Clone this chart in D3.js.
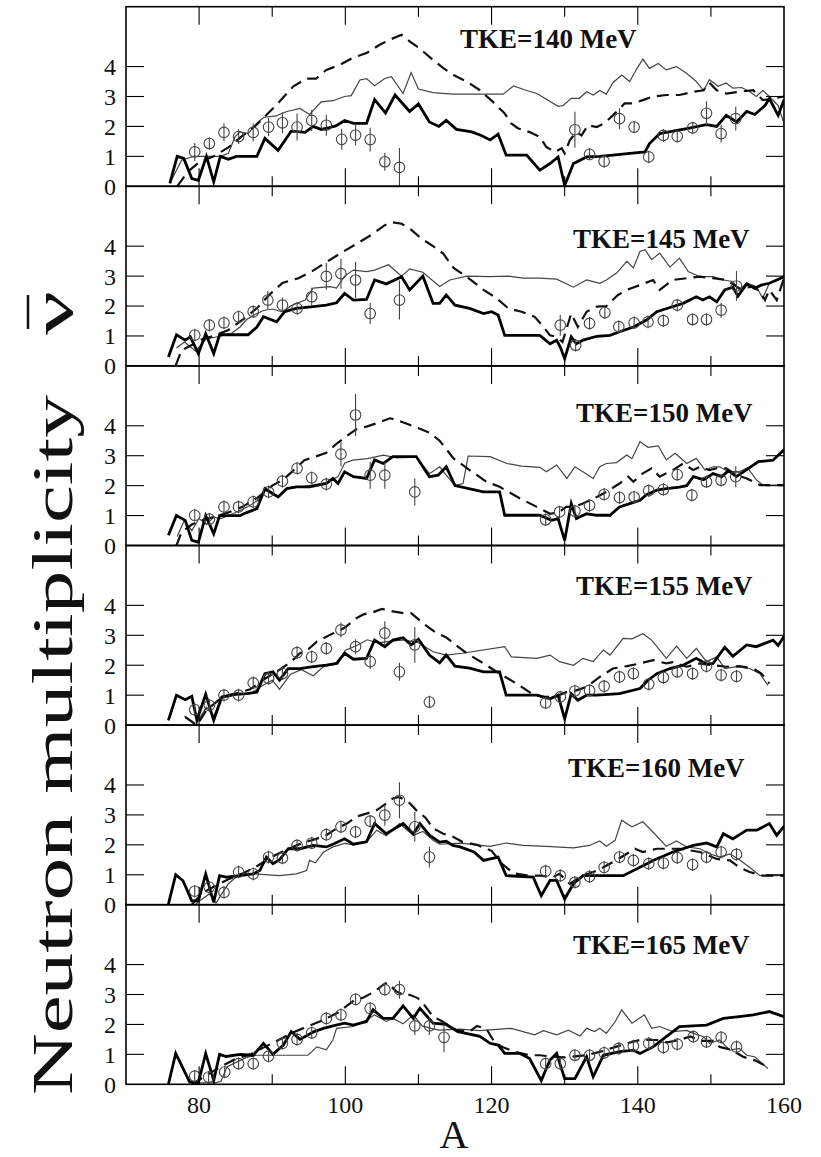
<!DOCTYPE html>
<html><head><meta charset="utf-8">
<script src="https://cdn.jsdelivr.net/npm/d3@7"></script>
<style>body{margin:0;background:#fff}svg{display:block}</style>
</head><body>
<svg id="c" width="821" height="1157"></svg>
<script>
// ---------------- DATA ----------------
const xTicksMajor = [80, 100, 120, 140, 160];
const xTicksMinor = [90, 110, 130, 150];
const yTicks = [0, 1, 2, 3, 4];
const panelLabels = ["TKE=140 MeV", "TKE=145 MeV", "TKE=150 MeV", "TKE=155 MeV", "TKE=160 MeV", "TKE=165 MeV"];

// thick solid curves [A, nu]
const thick140 = [[76,0.1],[77,1.0],[77.9,0.93],[79,0.26],[79.9,0.2],[81,1.0],[82,0.15],[82.9,1.0],[84,0.9],[85.1,1.0],[87.9,1.0],[89,1.6],[90.8,1.2],[92.6,1.84],[94.5,1.8],[95.6,2.0],[96.7,1.9],[97.8,1.96],[98.7,2.02],[99.9,2.2],[101.1,2.1],[102.9,2.1],[104,2.9],[105.5,2.45],[106.8,3.05],[108.8,2.5],[110,2.75],[111.5,2.15],[112.8,2.0],[113.8,2.2],[115.2,1.9],[117.3,1.82],[118.6,1.7],[119.8,1.55],[120.9,1.74],[122,1.04],[124.8,1.04],[126.6,0.54],[128,0.76],[129.1,0.98],[130,0.03],[131.2,0.76],[133,0.98],[134.8,1.0],[136.6,1.04],[138.9,1.1],[141,1.15],[141.6,1.43],[143,1.76],[144.8,1.84],[146.7,1.93],[149.4,2.06],[150.8,2.0],[152.1,2.37],[153.5,2.15],[154.9,2.5],[156,2.4],[157.4,2.7],[158,2.93],[159.2,2.37],[160,2.88]];
const thick145 = [[75.8,0.3],[76.9,1.04],[78.1,0.86],[78.8,0.97],[79.9,0.41],[80.9,1.08],[82,0.41],[82.8,1.04],[86.7,1.04],[87.9,1.3],[88.8,1.64],[90.6,1.47],[91.7,1.81],[93.3,1.92],[95.6,1.98],[97.4,2.03],[98.8,2.11],[99.9,2.42],[101.1,2.2],[102.9,2.22],[104,2.87],[105.6,2.74],[107.7,2.98],[108.8,2.54],[110.6,3.0],[112,2.09],[112.9,2.09],[113.8,2.37],[115,2.03],[117,1.92],[118.9,1.75],[120,1.81],[120.9,1.7],[121.8,1.02],[126.6,1.02],[128,0.74],[128.9,0.86],[129.4,0.63],[130,0.24],[130.9,0.97],[131.6,0.74],[132.5,0.86],[134.4,0.99],[136.2,1.02],[137.5,1.14],[139.4,1.3],[141.2,1.53],[142.6,1.81],[144.4,1.95],[146.2,2.09],[148,2.31],[148.9,2.2],[149.8,2.31],[150.8,2.14],[151.9,2.54],[153,2.63],[153.7,2.33],[154.9,2.74],[156,2.59],[156.9,2.7],[158,2.76],[159,2.87],[160,2.98]];
const thick150 = [[75.8,0.34],[76.9,1.0],[78.1,0.84],[79,0.17],[79.9,0.11],[80.9,1.0],[82,0.39],[82.8,1.0],[85.6,1.0],[86.5,1.1],[87.9,1.23],[89,1.9],[90.8,1.62],[92,1.9],[93.3,1.96],[95.1,1.96],[97.4,2.07],[98.3,2.24],[99,2.07],[99.9,2.46],[101.1,2.3],[102.9,2.24],[104,2.86],[105.2,2.74],[106.5,2.97],[109.7,2.97],[111.5,2.3],[112.7,2.35],[113.8,2.63],[115,2.0],[118.9,1.79],[121.1,1.79],[121.8,1.01],[126.6,1.01],[128.2,0.84],[129.1,0.9],[130,0.17],[130.9,1.4],[131.6,0.9],[133,1.06],[134.4,1.01],[136.2,1.01],[137.5,1.29],[138.9,1.4],[140.3,1.51],[141.2,1.7],[142.6,1.85],[143.9,1.9],[145.7,1.95],[146.7,2.0],[147.6,2.3],[149,2.2],[150.3,2.4],[151.5,2.3],[152.4,2.5],[153.5,2.3],[155,2.55],[156.5,2.8],[158.5,2.85],[160,3.2]];
const thick155 = [[75.8,0.16],[76.9,1.0],[78.1,0.85],[79,0.96],[79.7,0.16],[80.9,1.03],[82,0.16],[83.1,0.94],[84.7,1.03],[86.5,1.05],[87.9,1.1],[89,1.72],[90.1,1.78],[91,1.5],[92.2,1.89],[93.8,1.89],[95.6,1.95],[97.4,2.0],[98.8,2.06],[99.9,2.4],[101.1,2.2],[102.9,2.23],[104,2.84],[105.4,2.62],[106.5,2.84],[107.9,2.92],[109,2.68],[110,2.87],[111.5,2.34],[112.9,2.08],[113.8,2.34],[115,1.97],[117,1.9],[118.9,1.78],[121.1,1.78],[122,1.0],[126.2,1.0],[128,0.88],[129.1,1.0],[130,0.21],[130.9,1.05],[131.8,0.83],[133,1.0],[134.4,1.0],[137.5,1.05],[140.3,1.22],[141.4,1.5],[142.6,1.72],[144.4,1.89],[146.2,2.0],[148,2.23],[149.4,2.04],[150.3,2.06],[151.9,2.6],[153,2.3],[154.9,2.68],[156.2,2.62],[158.5,2.84],[159.2,2.66],[160,2.96]];
const thick160 = [[75.8,0.02],[76.8,1.0],[77.8,0.8],[79,0.13],[79.9,0.13],[80.9,1.03],[82,0.08],[82.8,0.97],[83.7,0.92],[85.6,0.97],[87.4,1.03],[88.3,1.14],[89.2,1.59],[90.1,1.37],[91,1.5],[92.2,1.87],[93.8,1.87],[95.6,1.98],[97.4,1.93],[98.3,2.02],[99.9,2.2],[101.1,2.02],[102.9,2.1],[104,2.71],[105.6,2.37],[107.9,2.71],[109.3,2.37],[110.2,2.71],[111.5,2.32],[112.9,2.09],[113.8,2.12],[114.7,1.98],[115.7,1.93],[117.6,1.76],[118.9,1.48],[120.9,1.59],[122,0.97],[125.7,0.92],[126.8,0.3],[128,0.81],[128.9,0.81],[130,0.19],[131.2,0.7],[132.5,0.97],[138,0.97],[140.3,1.25],[142.1,1.48],[144.8,1.76],[147.6,1.98],[149.4,2.06],[150.8,1.93],[151.7,2.37],[153,2.2],[154.9,2.49],[156.3,2.49],[158,2.71],[159,2.32],[160,2.62]];
const thick165 = [[75.8,0],[76.8,1.03],[78.7,0.08],[79.9,0.05],[80.9,1.03],[82,0.13],[82.8,1.0],[83.7,0.93],[85.6,1.0],[87.4,0.97],[88.8,1.37],[90.1,1.0],[91.5,1.3],[92.6,1.76],[93.8,1.5],[95.6,1.75],[97,1.87],[98.3,1.95],[99.9,2.04],[101.1,1.98],[102.9,2.1],[103.8,2.49],[105.2,2.2],[106.5,2.2],[107.9,2.62],[109.3,2.2],[110.2,2.54],[112,2.04],[113.8,2.0],[115.4,1.76],[116.5,1.7],[118.4,1.6],[119.8,1.37],[120.9,1.31],[121.8,1.03],[123.9,1.03],[125.2,0.86],[126.8,0.13],[128,0.81],[128.9,1.03],[130,0.19],[131.4,0.19],[133,0.92],[133.9,0.25],[135.3,0.97],[137.5,1.09],[139.4,1.14],[140.3,1.03],[142.1,1.25],[143.9,1.59],[145.7,1.93],[149.4,1.98],[151.7,2.2],[153.9,2.26],[155.8,2.32],[158,2.43],[160,2.26]];

// thin solid curves [A, nu]
const thin140 = [[76,0.1],[77.6,0.87],[79.2,1.0],[83,1.0],[84,1.1],[84.9,1.65],[85.6,1.82],[86.7,1.76],[87.9,2.1],[88.8,2.3],[90.5,2.35],[92,2.5],[93.8,2.6],[95.1,2.4],[96.7,2.82],[98.3,2.86],[99.9,3.0],[100.8,3.03],[102,3.55],[102.9,3.6],[104,3.36],[105.4,3.6],[106.3,3.66],[107.9,3.1],[109,3.8],[110,3.25],[112,3.13],[114.7,3.08],[121.6,3.08],[123,3.35],[124.8,3.2],[126.2,3.1],[129.1,2.67],[129.8,2.7],[130.9,2.94],[132,2.94],[133,3.16],[133.9,3.05],[134.8,3.2],[135.7,3.08],[136.6,3.46],[137.8,3.72],[138.9,3.5],[139.8,3.9],[140.7,4.25],[141.6,3.94],[142.8,4.1],[143.9,3.89],[145.3,4.0],[146.7,3.77],[148,3.5],[149,3.2],[149.8,3.56],[151,3.34],[152.1,3.45],[153,3.28],[154.2,3.3],[155.3,3.17],[156.2,3.0],[157.1,3.2],[158,3.0],[159.2,2.7],[160,2.1]];
const thin145 = [[76.9,0.6],[78,0.8],[79.5,0.5],[81,0.9],[83,1.0],[84.5,1.1],[85.6,1.3],[86.5,1.55],[87.5,1.7],[88.8,1.85],[90,1.9],[91.5,1.8],[92.5,2.0],[94.5,2.2],[95.6,2.6],[97.9,2.65],[98.8,2.6],[99.9,3.0],[101.1,3.2],[102.9,3.15],[104,3.2],[105.9,3.38],[107.7,3.0],[108.8,3.24],[110.6,3.13],[112.9,2.65],[114.3,2.87],[116.6,3.0],[119.8,2.98],[122.3,3.0],[124.3,2.93],[126.6,2.93],[128.9,2.9],[131.2,2.63],[133,2.87],[134.8,2.76],[135.7,2.87],[137.1,3.1],[138.5,3.49],[139.4,3.27],[140.3,3.82],[141,3.88],[141.9,3.55],[143,3.77],[144.4,3.3],[145.7,3.6],[146.9,3.15],[148.5,2.98],[150.3,2.98],[151.7,2.87],[153,2.82],[153.9,2.54],[154.9,2.76],[156.2,2.65],[157.1,2.26],[158,2.76],[159.4,2.9],[160,2.98]];
const thin150 = [[77,0.3],[78,0.85],[79,0.5],[80,0.9],[81,0.7],[82,0.95],[83,0.9],[85,1.1],[86.7,1.3],[88,1.5],[89,1.85],[90.8,1.62],[92,1.9],[95,2.0],[97.4,2.1],[99,2.3],[99.9,2.75],[101,2.85],[103,2.9],[105.2,3.02],[107,2.93],[109.7,2.95],[111.5,2.4],[112.9,2.63],[113.8,2.35],[115,2.0],[116.1,2.07],[116.8,2.99],[119.8,2.97],[122.1,2.74],[124.1,2.65],[126.6,2.61],[127.5,2.46],[128.9,2.69],[130.3,2.24],[131.4,2.63],[132.5,2.46],[133.9,2.24],[134.8,2.63],[135.7,2.74],[137.1,2.77],[138.5,3.02],[139.2,2.9],[140.3,3.47],[141.4,3.28],[142.8,3.33],[143.9,2.86],[145.1,3.08],[146.7,2.74],[148,2.91],[149.2,2.52],[150.3,2.63],[151.2,2.63],[152.4,2.46],[153.9,2.46],[155,2.6],[156.2,2.2],[157.1,2.02],[160,2.02]];
const thin155 = [[78,0.3],[79.5,0.0],[81,0.6],[82,0.3],[83,0.9],[85,1.0],[87,1.05],[88.5,1.3],[90,1.5],[91,1.2],[92.5,1.7],[94,1.85],[95.6,1.65],[97,1.95],[99,2.05],[100,2.5],[101.5,2.65],[103,2.85],[104.5,2.75],[106,2.8],[108,2.85],[110,2.75],[112,2.45],[113.8,2.34],[116,2.4],[121.8,2.62],[122.7,2.28],[126.2,2.23],[128,2.34],[129.3,2.12],[131.2,2.0],[132.5,2.23],[133.9,2.12],[135.3,2.51],[136.2,2.34],[138,2.9],[139.2,2.88],[140.7,3.05],[141.9,2.84],[143.2,2.45],[143.9,2.23],[145.3,2.64],[146.7,2.23],[148,2.56],[149.4,2.12],[150.8,2.28],[151.9,1.89],[153.5,1.95],[155.3,1.89],[156.7,1.72],[157.8,1.33]];
const thin160 = [[79.5,0.0],[80.1,0.13],[81.4,0.36],[82.3,0.05],[83.1,0.36],[84,0.7],[85.6,1.03],[87.4,1.03],[91,0.97],[93.3,1.03],[94.7,1.14],[95.1,1.48],[95.9,1.4],[97,1.75],[98.3,1.93],[99.9,2.05],[101.1,2.0],[102.9,2.1],[104.3,2.49],[105.6,2.3],[107.4,2.71],[109.3,2.32],[110.6,2.45],[112,2.15],[112.9,2.02],[115.7,2.06],[119.8,1.95],[122,2.06],[124.3,1.98],[127.5,1.95],[131.2,1.9],[133.4,1.98],[134.8,2.13],[135.7,1.95],[136.9,2.15],[137.8,2.82],[139.2,2.6],[140.7,2.77],[142.3,2.37],[143.9,1.95],[145.3,2.13],[146.7,1.93],[148.5,1.87],[149.8,1.7],[151.2,1.59],[152.6,1.7],[153.9,1.5],[155.3,1.25],[156.7,0.97],[158,0.97],[160,0.97]];
const thin165 = [[79.2,0.05],[82.2,0.05],[83,0.1],[83.8,0.58],[85.6,0.8],[86.5,0.9],[87.9,0.97],[94.9,0.97],[96.1,1.25],[97.4,1.15],[98.3,1.48],[98.8,1.87],[101.1,1.93],[102.9,2.15],[104,2.32],[105.6,2.1],[106.5,2.2],[107.9,2.02],[109.3,2.32],[110.5,1.95],[112,1.85],[112.9,1.81],[115.7,1.84],[118.4,1.79],[122.7,1.87],[125.9,1.65],[127.1,1.79],[128.9,1.65],[130.5,1.81],[132.1,1.61],[133,1.87],[134.1,1.76],[134.8,1.87],[135.7,1.7],[136.9,2.09],[137.8,2.49],[139.2,2.04],[140.9,2.32],[141.9,1.87],[143,1.93],[144.8,1.76],[146.7,1.8],[147.6,1.7],[149,1.59],[149.8,1.37],[151.2,1.48],[152.6,1.14],[153.9,1.2],[154.9,0.97],[156,0.92],[157.8,0.53]];

// dashed curves [A, nu]
const dash140 = [[77,0],[78.5,0.5],[80,0.8],[82,1.0],[84,1.3],[86,1.7],[87.6,2.0],[89.2,2.38],[91,2.83],[92.9,3.34],[94.7,3.6],[96,3.6],[97.4,3.89],[99.2,4.05],[101.1,4.3],[102.9,4.45],[104.7,4.73],[106.1,4.9],[107.7,5.06],[108.8,4.84],[110.2,4.6],[112,4.22],[113.4,3.95],[114.8,3.72],[116.6,3.5],[118.4,3.21],[120.2,2.82],[121.8,2.43],[122.7,2.1],[123.6,1.94],[125.2,1.81],[126.6,1.65],[127.5,1.31],[128.7,1.15],[129.6,1.27],[130,1.1],[130.7,1.54],[131.6,1.81],[132.3,1.7],[133.2,2.04],[134.4,1.98],[135.5,2.12],[136.6,2.37],[138.2,2.77],[139.4,2.77],[140.7,2.88],[142.1,3.0],[143.9,3.05],[145.7,3.05],[147.6,3.16],[149,3.21],[149.8,3.46],[150.8,3.21],[152.1,3.1],[153.9,3.16],[155.8,3.21],[157.1,2.88],[158.5,2.93],[160,3.0]];
const dash145 = [[76.8,0.02],[77.6,0.52],[79,0.7],[80.5,0.9],[82,1.0],[84,1.2],[86,1.55],[88,1.95],[89.7,2.4],[91.4,2.77],[93.6,2.93],[95.7,3.2],[97.3,3.45],[98.8,3.68],[99.8,3.83],[101.7,4.1],[103.7,4.4],[105.4,4.7],[106.4,4.8],[107.7,4.75],[109,4.55],[110.4,4.25],[112,4.0],[113.4,3.75],[114.8,3.27],[116.6,2.98],[118.9,2.54],[120.7,2.26],[122.3,1.92],[124.1,1.81],[125.9,1.64],[127.1,1.3],[128,1.02],[128.9,0.97],[129.7,0.8],[130.9,1.75],[131.8,1.3],[133,1.81],[134.4,1.98],[135.7,2.0],[137.3,2.37],[138.5,2.54],[140.3,2.7],[142.1,2.87],[143,2.54],[144.8,2.87],[146.7,2.93],[148.5,2.98],[150.3,2.93],[152.1,2.87],[153.9,2.59],[155.8,2.65],[156.7,2.48],[157.4,2.2],[158,2.54],[159,2.2],[160,2.93]];
const dash150 = [[76.9,0],[77.6,0.45],[79,0.7],[80.5,0.85],[82,0.95],[84,1.1],[86,1.3],[88,1.6],[90,2.0],[91.5,2.2],[93.1,2.55],[94.4,2.85],[95.9,2.97],[97.4,3.1],[99,3.44],[100.2,3.66],[101.5,3.88],[103,3.98],[104.5,4.1],[106.1,4.25],[107,4.2],[108.6,4.05],[110.2,3.9],[111.5,3.77],[112.9,3.5],[114.8,2.91],[117,2.52],[119.3,2.13],[121.1,1.96],[123.9,1.57],[126.2,1.29],[128,1.06],[129.3,1.12],[130.2,1.29],[131.2,1.29],[132.5,1.4],[134.4,1.62],[135.7,1.79],[137.5,2.07],[138.7,2.3],[139.4,2.13],[140.7,2.41],[141.9,2.58],[143,2.3],[144.8,2.52],[146.2,2.74],[147.6,2.52],[148.5,2.63],[149.8,2.52],[150.8,2.58],[152.1,2.58],[153.5,2.35],[154.9,2.24],[156.7,2.02],[160,2.02]];
const dash155 = [[78.1,0.27],[79.7,0.0],[81,0.5],[83,0.9],[85,1.05],[87,1.2],[89,1.55],[91,1.85],[92.5,2.1],[93.8,2.4],[95,2.55],[96.1,2.79],[97.4,2.95],[98.8,3.12],[99.9,3.25],[101.5,3.57],[102.5,3.7],[103.8,3.77],[105,3.88],[106.5,3.8],[108,3.74],[109,3.74],[110.9,3.35],[112.3,3.1],[113.8,2.93],[114.8,2.73],[116.6,2.4],[118.9,2.06],[121.1,1.72],[123.4,1.39],[125.5,1.05],[127.1,0.94],[128.7,0.94],[130.3,1.11],[131.6,1.16],[133,1.28],[134.8,1.61],[136.6,1.89],[138.5,1.97],[140.3,2.06],[142.1,2.17],[143.9,2.06],[144.8,2.1],[146.7,1.95],[148.5,2.06],[150.3,2.0],[152.1,1.95],[153.9,1.97],[155.8,1.89],[156.9,1.72],[158,1.39]];
const dash160 = [[79,0.0],[80.5,0.4],[82,0.6],[84,0.85],[86,1.05],[88,1.3],[90,1.6],[92,1.85],[94,2.05],[96,2.2],[97.4,2.32],[98.5,2.5],[100.2,2.71],[101.6,2.95],[103,3.05],[104.3,3.16],[105.6,3.38],[106.5,3.55],[107.4,3.6],[108.8,3.39],[109.7,3.16],[111,2.9],[112,2.55],[113.4,2.37],[114.5,2.3],[116,2.1],[118,2.0],[120,1.8],[121.5,1.35],[123,1.05],[124.8,0.98],[126.6,0.97],[128.4,0.92],[129.3,1.03],[130.7,0.7],[132.5,0.97],[133.9,1.09],[135.3,1.25],[137.5,1.55],[139.6,1.87],[140.7,1.76],[142.6,1.87],[145.7,1.87],[148.5,1.76],[150.8,1.53],[152.6,1.48],[153.9,1.25],[155.3,1.09],[157.1,0.97],[160,0.97]];
const dash165 = [[79,0.0],[81,0.3],[83,0.6],[85,0.85],[87,1.0],[89,1.25],[91,1.5],[93,1.75],[95,1.95],[97,2.15],[99,2.4],[101.3,2.82],[102.5,2.9],[104,3.1],[105.2,3.33],[105.7,3.4],[107,3.1],[107.9,2.99],[108.8,2.99],[109.9,2.88],[110.8,2.65],[112,2.26],[112.9,2.15],[114,2.0],[115.2,1.8],[117,1.76],[118,1.95],[119.3,1.85],[120.3,1.45],[121.4,1.25],[123,1.1],[125.2,0.97],[126.6,0.97],[128.5,0.92],[130,0.9],[133,0.97],[135,1.1],[137,1.25],[139,1.4],[140.3,1.48],[142.6,1.48],[144,1.4],[145.7,1.48],[147.2,1.6],[148.5,1.45],[150.3,1.45],[151.2,1.25],[152.8,1.15],[154.4,0.92],[156,0.8],[157.8,0.58]];

// experimental points [A, nu, error]
const exp140 = [[79.4,1.15,0.3],[81.4,1.43,0.2],[83.4,1.8,0.3],[85.4,1.66,0.25],[87.4,1.8,0.3],[89.5,1.98,0.3],[91.4,2.12,0.35],[93.4,1.98,0.45],[95.4,2.2,0.35],[97.4,2.04,0.35],[99.5,1.57,0.35],[101.4,1.71,0.35],[103.4,1.56,0.4],[105.4,0.82,0.3],[107.4,0.63,0.65],[131.4,1.89,0.6],[133.4,1.07,0.2],[135.4,0.83,0.15],[137.5,2.26,0.35],[139.5,1.98,0.2],[141.5,0.98,0.15],[143.5,1.7,0.15],[145.4,1.67,0.2],[147.5,1.95,0.2],[149.4,2.44,0.4],[151.4,1.76,0.3],[153.4,2.26,0.4]];
const exp145 = [[79.4,1.03,0.15],[81.4,1.36,0.15],[83.4,1.44,0.15],[85.4,1.64,0.2],[87.4,1.81,0.2],[89.4,2.2,0.3],[91.4,2.03,0.25],[93.4,1.92,0.2],[95.4,2.31,0.3],[97.4,2.99,0.45],[99.4,3.08,0.5],[101.4,2.87,0.6],[103.4,1.75,0.35],[107.4,2.2,0.65],[129.4,1.36,0.35],[131.5,0.69,0.2],[133.4,1.42,0.2],[135.5,1.78,0.2],[137.4,1.31,0.15],[139.5,1.44,0.15],[141.4,1.47,0.2],[143.5,1.51,0.15],[145.4,2.03,0.2],[147.5,1.55,0.15],[149.4,1.55,0.15],[151.4,1.86,0.25],[153.5,2.67,0.5]];
const exp150 = [[79.4,1.01,0.2],[81.4,0.88,0.15],[83.4,1.29,0.15],[85.4,1.29,0.15],[87.4,1.46,0.2],[89.5,1.79,0.2],[91.4,2.15,0.2],[93.4,2.58,0.2],[95.4,2.26,0.2],[97.4,2.05,0.2],[99.4,3.05,0.4],[101.4,4.36,0.7],[103.4,2.35,0.45],[105.4,2.35,0.45],[109.5,1.79,0.45],[127.4,0.86,0.15],[129.3,1.12,0.15],[131.4,1.15,0.2],[133.4,1.34,0.2],[135.4,1.71,0.2],[137.5,1.6,0.15],[139.5,1.62,0.15],[141.5,1.83,0.2],[143.5,1.87,0.2],[145.4,2.37,0.2],[147.4,1.68,0.2],[149.4,2.13,0.2],[151.4,2.18,0.2],[153.4,2.3,0.35]];
const exp155 = [[79.4,0.52,0.15],[81.4,0.66,0.15],[83.4,1.0,0.1],[85.4,1.0,0.1],[87.4,1.41,0.15],[89.5,1.56,0.15],[91.4,1.72,0.15],[93.4,2.42,0.2],[95.4,2.28,0.2],[97.4,2.56,0.2],[99.4,3.18,0.25],[101.4,2.62,0.25],[103.4,2.12,0.25],[105.4,3.07,0.4],[107.4,1.78,0.3],[109.5,2.68,0.6],[111.5,0.77,0.2],[127.4,0.74,0.15],[129.4,0.94,0.2],[131.4,1.14,0.2],[133.4,1.16,0.2],[135.4,1.3,0.2],[137.5,1.61,0.2],[139.4,1.72,0.2],[141.5,1.37,0.15],[143.5,1.59,0.15],[145.4,1.78,0.15],[147.5,1.72,0.15],[149.4,1.97,0.15],[151.4,1.67,0.15],[153.5,1.63,0.2]];
const exp160 = [[79.4,0.45,0.1],[81.4,0.58,0.1],[83.4,0.41,0.1],[85.4,1.09,0.15],[87.4,1.03,0.1],[89.5,1.59,0.15],[91.4,1.56,0.15],[93.4,1.98,0.1],[95.4,2.06,0.1],[97.4,2.34,0.15],[99.4,2.6,0.15],[101.4,2.43,0.15],[103.4,2.79,0.15],[105.4,2.99,0.35],[107.4,3.49,0.6],[109.5,2.6,0.5],[111.5,1.59,0.35],[127.4,1.12,0.15],[129.4,0.97,0.1],[131.4,0.75,0.1],[133.4,0.94,0.1],[135.4,1.25,0.1],[137.5,1.59,0.1],[139.4,1.48,0.1],[141.5,1.37,0.1],[143.5,1.39,0.1],[145.4,1.57,0.1],[147.5,1.34,0.1],[149.4,1.59,0.1],[151.4,1.76,0.1],[153.5,1.68,0.1]];
const exp165 = [[79.4,0.27,0.1],[81.3,0.24,0.1],[83.5,0.41,0.1],[85.4,0.69,0.1],[87.4,0.69,0.1],[89.5,0.94,0.1],[91.4,1.37,0.1],[93.4,1.5,0.1],[95.4,1.72,0.1],[97.4,2.2,0.1],[99.4,2.32,0.15],[101.4,2.84,0.15],[103.4,2.54,0.15],[105.4,3.16,0.2],[107.4,3.16,0.3],[109.5,1.95,0.3],[111.5,1.95,0.3],[113.5,1.57,0.5],[127.4,0.69,0.1],[129.4,0.69,0.1],[131.4,0.97,0.1],[133.4,0.97,0.1],[135.4,1.05,0.1],[137.4,1.2,0.1],[139.4,1.28,0.1],[141.5,1.37,0.1],[143.5,1.23,0.1],[145.4,1.34,0.1],[147.6,1.59,0.1],[149.4,1.42,0.1],[151.4,1.57,0.1],[153.5,1.25,0.1]];

const panels = [
  {label: panelLabels[0], thick: thick140, thin: thin140, dash: dash140, exp: exp140},
  {label: panelLabels[1], thick: thick145, thin: thin145, dash: dash145, exp: exp145},
  {label: panelLabels[2], thick: thick150, thin: thin150, dash: dash150, exp: exp150},
  {label: panelLabels[3], thick: thick155, thin: thin155, dash: dash155, exp: exp155},
  {label: panelLabels[4], thick: thick160, thin: thin160, dash: dash160, exp: exp160},
  {label: panelLabels[5], thick: thick165, thin: thin165, dash: dash165, exp: exp165}
];

// ---------------- LAYOUT ----------------
const left = 126, right = 784, top0 = 6.7, panelH = 179.6;
const labelOffsets = [41, 62, 56, 49, 52, 49]; // baseline of TKE label from panel top
const labelX = [460, 573, 576, 576, 568, 573];

const svg = d3.select("#c");
const x = d3.scaleLinear().domain([70, 160]).range([left, right]);
const serif = "'Liberation Serif','Times New Roman',Times,serif";
const defs = svg.append("defs");

panels.forEach((p, i) => {
  const pTop = top0 + i * panelH, pBot = pTop + panelH;
  const y = d3.scaleLinear().domain([0, 6]).range([pBot, pTop]);
  const g = svg.append("g");
  const cp = "clipP" + i;
  defs.append("clipPath").attr("id", cp)
    .append("rect").attr("x", left).attr("y", pTop).attr("width", right - left).attr("height", panelH);
  const pg = g.append("g").attr("clip-path", `url(#${cp})`);
  const line = d3.line().x(d => x(d[0])).y(d => y(d[1]));

  pg.append("path").datum(p.thin).attr("d", line).attr("fill", "none")
    .attr("stroke", "#444").attr("stroke-width", 1.2).attr("stroke-linejoin", "miter");
  pg.append("path").datum(p.dash).attr("d", line).attr("fill", "none")
    .attr("stroke", "#111").attr("stroke-width", 2.2).attr("stroke-dasharray", "12,7");
  pg.append("path").datum(p.thick).attr("d", line).attr("fill", "none")
    .attr("stroke", "#000").attr("stroke-width", 2.8).attr("stroke-linejoin", "miter");

  // experimental points
  const r = 5.3;
  const ex = pg.append("g").selectAll("g").data(p.exp).join("g");
  ex.append("line")
    .attr("x1", d => x(d[0])).attr("x2", d => x(d[0]))
    .attr("y1", d => Math.min(y(d[1] + d[2]), y(d[1]) - r - 1))
    .attr("y2", d => Math.max(y(d[1] - d[2]), y(d[1]) + r + 1))
    .attr("stroke", "#444").attr("stroke-width", 1.1);
  ex.append("circle").attr("cx", d => x(d[0])).attr("cy", d => y(d[1])).attr("r", r)
    .attr("fill", "none").attr("stroke", "#444").attr("stroke-width", 1.1);

  // frame
  g.append("rect").attr("x", left).attr("y", pTop).attr("width", right - left).attr("height", panelH)
    .attr("fill", "none").attr("stroke", "#000").attr("stroke-width", 1.6);

  // x ticks (inward, top & bottom)
  const tk = g.append("g").attr("stroke", "#000").attr("stroke-width", 1.1);
  xTicksMajor.concat(xTicksMinor).forEach(v => {
    const len = xTicksMajor.includes(v) ? 18 : 10;
    if (v >= 160) return;
    tk.append("line").attr("x1", x(v)).attr("x2", x(v)).attr("y1", pBot).attr("y2", pBot - len);
    tk.append("line").attr("x1", x(v)).attr("x2", x(v)).attr("y1", pTop).attr("y2", pTop + len);
  });
  // y ticks (left & right, inward)
  yTicks.forEach(v => {
    if (v === 0) return;
    tk.append("line").attr("x1", left).attr("x2", left + 18).attr("y1", y(v)).attr("y2", y(v));
    tk.append("line").attr("x1", right).attr("x2", right - 18).attr("y1", y(v)).attr("y2", y(v));
  });
  // y tick labels
  g.append("g").selectAll("text").data(yTicks).join("text")
    .attr("x", 116).attr("y", d => y(d)).attr("dy", "0.35em")
    .attr("text-anchor", "end").attr("font-family", serif).attr("font-size", 24)
    .attr("fill", "#111").text(d => d);

  // panel label
  g.append("text").attr("x", labelX[i]).attr("y", pTop + labelOffsets[i])
    .attr("font-family", serif).attr("font-weight", "bold").attr("font-size", 27)
    .attr("fill", "#111").text(p.label);
});

// x tick labels
const bottom = top0 + 6 * panelH;
svg.append("g").selectAll("text").data(xTicksMajor).join("text")
  .attr("x", d => x(d)).attr("y", bottom + 29)
  .attr("text-anchor", "middle").attr("font-family", serif).attr("font-size", 24)
  .attr("fill", "#111").text(d => d);

// axis titles
svg.append("text").attr("x", 454).attr("y", 1148).attr("text-anchor", "middle")
  .attr("font-family", serif).attr("font-size", 40).attr("fill", "#111").text("A");

const yl = svg.append("g").attr("transform", "translate(72,1095) rotate(-90)");
yl.append("text").attr("x", 0).attr("y", 0).attr("font-family", serif).attr("font-size", 56)
  .attr("textLength", 700).attr("lengthAdjust", "spacingAndGlyphs")
  .attr("fill", "#111").text("Neutron multiplicity");
yl.append("text").attr("x", 760).attr("y", 0).attr("font-family", serif).attr("font-size", 56)
  .attr("textLength", 44).attr("lengthAdjust", "spacingAndGlyphs")
  .attr("fill", "#111").text("ν");
yl.append("line").attr("x1", 766).attr("x2", 800).attr("y1", -44).attr("y2", -44)
  .attr("stroke", "#111").attr("stroke-width", 2.5);
</script>
</body></html>
